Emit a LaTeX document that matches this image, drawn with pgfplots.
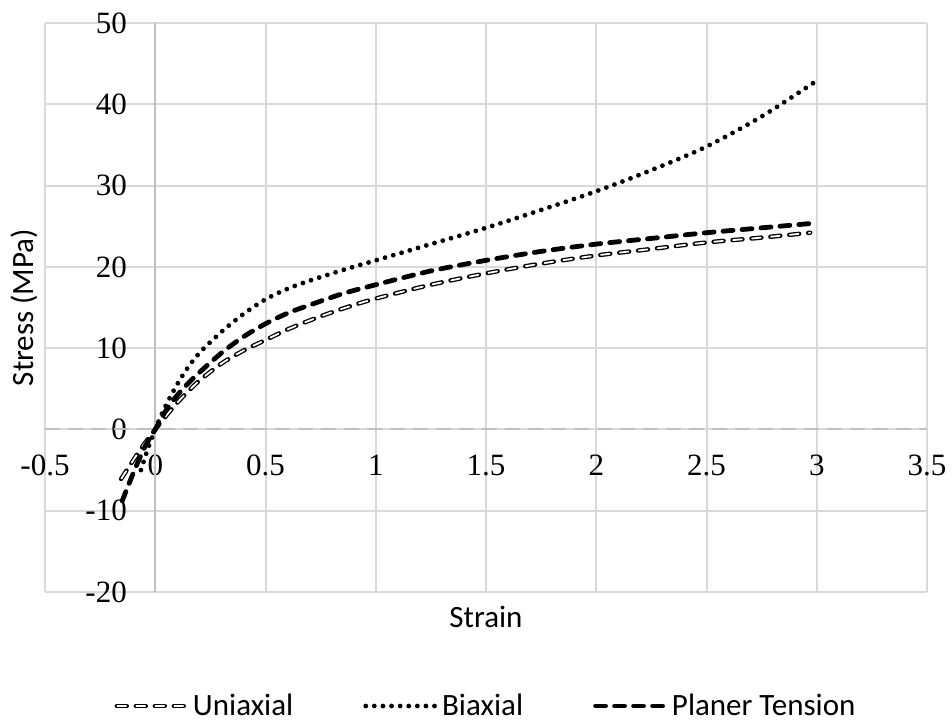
\documentclass[border=0pt]{standalone}
\usepackage{pgfplots}
\pgfplotsset{compat=1.18}
\usepackage{fontspec}
\setmainfont{Liberation Serif}
\newfontfamily\carlito{Carlito}
\definecolor{gridc}{HTML}{D9D9D9}
\definecolor{axc}{HTML}{BFBFBF}
\begin{document}
\begin{tikzpicture}
\useasboundingbox (-22.5bp,-66.5bp) rectangle (453.5bp,296bp);
\begin{axis}[
  name=ax,
  at={(0,0)}, anchor=south west,
  width=441bp, height=284.5bp, scale only axis,
  xmin=-0.5, xmax=3.5, ymin=-20, ymax=50,
  axis line style={draw=none},
  xtick={-0.5,0,0.5,1,1.5,2,2.5,3,3.5},
  xticklabels={-0.5,0,0.5,1,1.5,2,2.5,3,3.5},
  ytick={-20,-10,0,10,20,30,40,50},
  yticklabels={-20,-10,0,10,20,30,40,50},
  major tick length=0pt,
  tick pos=left,
  grid=major,
  major grid style={draw=gridc, line width=1bp},
  extra x ticks={0},
  extra x tick labels={},
  extra x tick style={grid=major, major grid style={draw=axc, line width=1bp, solid}},
  extra y ticks={0},
  extra y tick labels={},
  extra y tick style={grid=major, major grid style={draw=axc, line width=1bp, dash pattern=on 7.5bp off 4bp}},
  tick label style={font=\fontsize{15.5bp}{18bp}\selectfont, text=black},
  xticklabel style={anchor=center, inner sep=0pt, yshift=63.3bp},
  yticklabel style={anchor=east, inner sep=0pt, xshift=41.1bp},
  xlabel={Strain},
  xlabel style={at={(axis description cs:0.5,0)}, anchor=base, yshift=-17.5bp,
    font=\carlito\fontsize{15.5bp}{18bp}\selectfont},
  legend columns=3,
  legend image code/.code={\draw[#1] (0bp,0bp) -- (36bp,0bp);},
  legend style={at={(axis description cs:0.5,0)}, anchor=center, yshift=-57bp,
    draw=none, fill=none, font=\carlito\fontsize{15.5bp}{18bp}\selectfont,
    nodes={inner sep=1bp},
    /tikz/every even column/.append style={column sep=34bp}},
  legend cell align=left,
]
\addplot[smooth, black, line width=2.2bp, line cap=round, dash pattern=on 5bp off 4.5bp,
  postaction={draw, white, line width=0.9bp, line cap=round, dash pattern=on 4.4bp off 5.1bp, dash phase=9.2bp}]
coordinates {
(-0.155,-6.1) (-0.1,-3.8) (-0.05,-1.8) (0,0) (0.05,1.7) (0.1,3.3) (0.15,4.7) (0.2,6.0)
(0.3,8.1) (0.4,9.7) (0.5,11.0) (0.6,12.3) (0.7,13.4) (0.8,14.4) (0.9,15.3) (1.0,16.1)
(1.25,17.8) (1.5,19.2) (1.75,20.4) (2.0,21.4) (2.25,22.2) (2.5,23.0) (2.75,23.6) (2.97,24.2)
};
\addlegendentry{Uniaxial}
\addplot[smooth, black, line width=2.4bp, line cap=round, dash pattern=on 0bp off 4.3bp]
coordinates {
(-0.065,-5.0) (-0.035,-2.5) (0,0) (0.04,2.5) (0.09,5.1) (0.14,7.3) (0.2,9.4) (0.3,12.0)
(0.4,14.2) (0.5,16.0) (0.6,17.3) (0.7,18.3) (0.85,19.6) (1.0,20.8) (1.25,22.8) (1.5,24.8)
(1.75,27.0) (2.0,29.3) (2.25,31.9) (2.5,34.8) (2.75,38.5) (3.0,42.9)
};
\addlegendentry{Biaxial}
\addplot[smooth, black, line width=2.4bp, line cap=round, dash pattern=on 5bp off 4.5bp]
coordinates {
(-0.15,-8.8) (-0.1,-5.4) (-0.05,-2.3) (0,0) (0.05,2.4) (0.1,4.2) (0.15,5.7) (0.2,7.0)
(0.3,9.4) (0.4,11.4) (0.5,13.0) (0.6,14.3) (0.7,15.3) (0.85,16.7) (1.0,17.8) (1.25,19.5)
(1.5,20.8) (1.75,21.9) (2.0,22.8) (2.25,23.5) (2.5,24.2) (2.75,24.8) (3.0,25.4)
};
\addlegendentry{Planer Tension}
\end{axis}
\node[rotate=90, anchor=base, font=\carlito\fontsize{15.5bp}{18bp}\selectfont]
  at (-6bp,142.25bp) {Stress (MPa)};
\end{tikzpicture}
\end{document}
